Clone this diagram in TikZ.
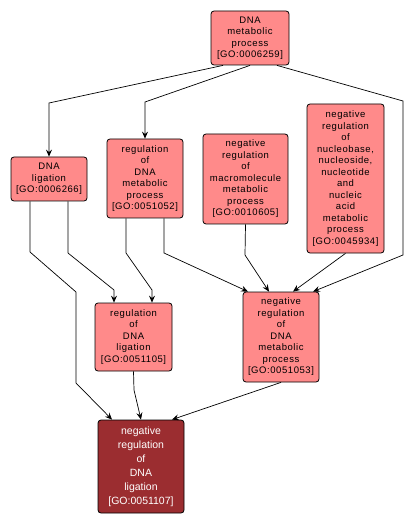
\documentclass[tikz,border=0pt]{standalone}
\usepackage{fontspec}
\newfontfamily\gofont[LetterSpace=6]{Liberation Sans}
\newfontfamily\gofontb{Liberation Sans}
\usetikzlibrary{arrows.meta,calc}
\definecolor{lightgo}{RGB}{255,138,138}
\definecolor{darkgo}{RGB}{155,45,48}
\tikzset{
  goterm/.style={draw=black, line width=0.8pt, fill=lightgo, rounded corners=3pt,
    align=center, inner sep=0pt, font=\gofont\fontsize{9.5}{11.5}\selectfont, text=black},
  goquery/.style={draw=black, line width=0.8pt, fill=darkgo, rounded corners=3pt,
    align=center, inner sep=0pt, font=\gofontb\fontsize{10.5}{14}\selectfont, text=white},
  rel/.style={draw=black, line width=0.7pt, -{Stealth[length=7pt,width=6pt,inset=2.5pt]}}
}
\begin{document}
\begin{tikzpicture}[x=1pt,y=-1pt]
\useasboundingbox[fill=white] (0,0) rectangle (414,526);
\node[goterm, minimum width=78pt, minimum height=54pt] (A) at (250,38) {DNA\\metabolic\\process\\{[GO:0006259]}};
\node[goterm, minimum width=76pt, minimum height=44pt] (B) at (49,179) {DNA\\ligation\\{[GO:0006266]}};
\node[goterm, minimum width=76pt, minimum height=79pt] (C) at (145,178.5) {regulation\\of\\DNA\\metabolic\\process\\{[GO:0051052]}};
\node[goterm, minimum width=85pt, minimum height=90pt] (D) at (245.5,179) {negative\\regulation\\of\\macromolecule\\metabolic\\process\\{[GO:0010605]}};
\node[goterm, minimum width=77pt, minimum height=149pt] (E) at (345.5,178.5) {negative\\regulation\\of\\nucleobase,\\nucleoside,\\nucleotide\\and\\nucleic\\acid\\metabolic\\process\\{[GO:0045934]}};
\node[goterm, minimum width=77pt, minimum height=68pt] (F) at (133.5,337) {regulation\\of\\DNA\\ligation\\{[GO:0051105]}};
\node[goterm, minimum width=76pt, minimum height=90pt] (G) at (281,337) {negative\\regulation\\of\\DNA\\metabolic\\process\\{[GO:0051053]}};
\node[goquery, minimum width=86pt, minimum height=93pt] (H) at (141,466.5) {negative\\regulation\\of\\DNA\\ligation\\{[GO:0051107]}};

% edges
\draw[rel] ([xshift=-27pt]A.south) -- (49,103) -- (B.north);
\draw[rel] (A.south) -- (145,102) -- (C.north);
\draw[rel] ([xshift=27pt]A.south) -- (403,101) -- (403,255) -- ([xshift=32pt]G.north);
\draw[rel] ([xshift=-19pt]B.south) -- (30,252) -- (76,292) -- (76,383) -- ([xshift=-29pt]H.north);
\draw[rel] ([xshift=19pt]B.south) -- (68,253) -- (114,290) -- ([xshift=-19.5pt]F.north);
\draw[rel] ([xshift=-19pt]C.south) -- (126,253) -- (152,290) -- ([xshift=18.5pt]F.north);
\draw[rel] ([xshift=19pt]C.south) -- (164,253) -- ([xshift=-33pt]G.north);
\draw[rel] (D.south) -- (245,255) -- ([xshift=-12pt]G.north);
\draw[rel] (E.south) -- ([xshift=12pt]G.north);
\draw[rel] (F.south) -- (134,390) -- (H.north);
\draw[rel] (G.south) -- ([xshift=31pt]H.north);
\end{tikzpicture}
\end{document}
